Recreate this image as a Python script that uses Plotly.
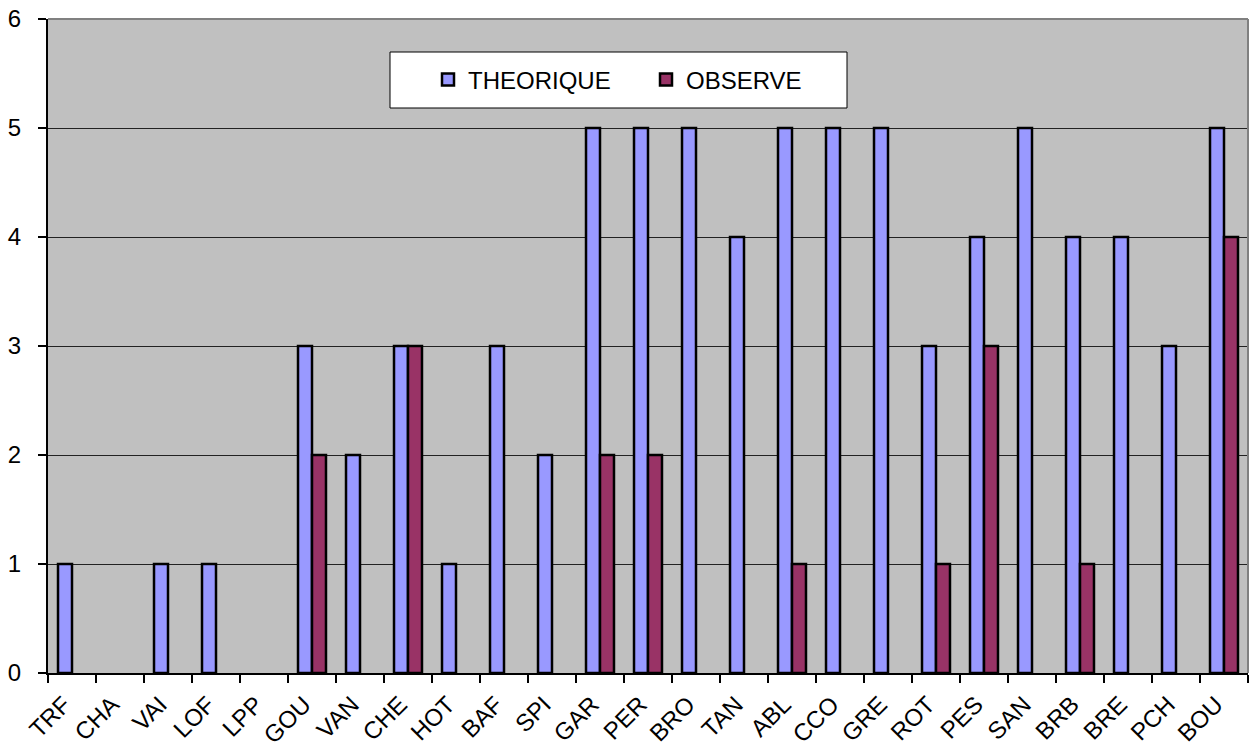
import plotly.graph_objects as go

# Sites and counts per site
sites = ["TRF", "CHA", "VAI", "LOF", "LPP", "GOU", "VAN", "CHE", "HOT", "BAF",
         "SPI", "GAR", "PER", "BRO", "TAN", "ABL", "CCO", "GRE", "ROT", "PES",
         "SAN", "BRB", "BRE", "PCH", "BOU"]
theorique = [1, 0, 1, 1, 0, 3, 2, 3, 1, 3, 2, 5, 5, 5, 4, 5, 5, 5, 3, 4, 5, 4, 4, 3, 5]
observe = [0, 0, 0, 0, 0, 2, 0, 3, 0, 0, 0, 2, 2, 0, 0, 1, 0, 0, 1, 3, 0, 1, 0, 0, 4]

FONT = "Liberation Sans, Arial, sans-serif"


def nonzero(values):
    # zero counts leave an empty slot instead of a flat outlined bar
    return [v if v else None for v in values]


fig = go.Figure()
fig.add_trace(go.Bar(
    x=sites, y=nonzero(theorique), name="THEORIQUE",
    marker=dict(color="#9999FF", line=dict(color="#000000", width=2.5)),
))
fig.add_trace(go.Bar(
    x=sites, y=nonzero(observe), name="OBSERVE",
    marker=dict(color="#993366", line=dict(color="#000000", width=2.5)),
))

fig.update_layout(
    width=1250, height=749,
    margin=dict(l=48, r=2, t=19, b=76),
    paper_bgcolor="#FFFFFF",
    plot_bgcolor="#C0C0C0",
    barmode="group",
    bargap=0.417,
    bargroupgap=0,
    font=dict(family=FONT, size=24, color="#000000"),
    showlegend=True,
    legend=dict(
        orientation="h",
        x=(428 - 48) / 1200, xanchor="left",
        y=(673 - 80) / 654, yanchor="middle",
        bgcolor="rgba(0,0,0,0)",
        borderwidth=0,
        entrywidth=173,
        font=dict(family=FONT, size=24, color="#000000"),
    ),
    xaxis=dict(
        type="category",
        automargin=False,
        tickson="boundaries",
        ticks="outside", ticklen=8, tickcolor="#000000", tickwidth=1.5,
        tickangle=-45,
        ticklabelstandoff=6,
        ticklabelshift=-8,
        showline=True, linecolor="#000000", linewidth=2,
        showgrid=False,
        tickfont=dict(family=FONT, size=24, color="#000000"),
    ),
    yaxis=dict(
        range=[0, 6], dtick=1,
        automargin=False,
        ticks="outside", ticklen=8, tickcolor="#000000", tickwidth=1.5,
        ticklabelstandoff=12,
        showline=True, linecolor="#000000", linewidth=2,
        showgrid=True, gridcolor="#222222", gridwidth=1,
        zeroline=False,
        tickfont=dict(family=FONT, size=24, color="#000000"),
    ),
    shapes=[
        # grey frame along the top and right of the plot area
        dict(type="line", xref="paper", yref="paper", x0=0, x1=1, y0=1, y1=1,
             line=dict(color="#808080", width=2), layer="above"),
        dict(type="line", xref="paper", yref="paper", x0=1, x1=1, y0=0, y1=1,
             line=dict(color="#808080", width=2), layer="above"),
        # legend box
        dict(type="rect", xref="paper", yref="paper",
             x0=(390 - 48) / 1200, x1=(847 - 48) / 1200,
             y0=(673 - 108) / 654, y1=(673 - 52) / 654,
             fillcolor="#FFFFFF", line=dict(color="#000000", width=1),
             layer="above"),
    ],
)

fig.write_html("out.html")
